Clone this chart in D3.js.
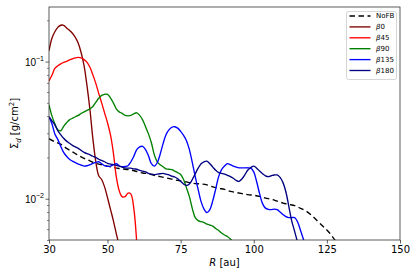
<!DOCTYPE html>
<html><head><meta charset="utf-8">
<script src="https://cdn.jsdelivr.net/npm/d3@7"></script>
<style>body{margin:0;background:#fff}svg{display:block;font-family:"DejaVu Sans",sans-serif}</style>
</head><body><svg id="c" width="415" height="274"></svg>
<script>
// ---------- data ----------
const rGrid = [30,31,32,33,34,35,36,37,38,39,40,41,42,43,44,45,46,47,48,49,50,51,52,53,54,55,56,57,58,59,
  60,61,62,63,64,65,66,67,68,69,70,71,72,73,74,75,76,77,78,79,80,81,82,83,84,85,86,87,88,89,
  90,91,92,93,94,95,96,97,98,99,100,101,102,103,104,105,106,107,108,109,110,111,112,113,114,115,116,117,118];
const rNoFB = [30,32,34,36,38,40,42,44,46,48,50,52,54,56,58,60,62,64,66,68,70,72,74,76,78,80,82,84,86,88,
  90,92,94,96,98,100,102,104,106,108,110,112,114,116,118,120,122,124,126,128];

const sigmaNoFB = [0.0274,0.0260,0.0250,0.0233,0.0220,0.0207,0.0197,0.0189,0.0181,0.0177,
  0.0173,0.0169,0.0166,0.0164,0.0162,0.0158,0.0154,0.0152,0.0148,0.0145,
  0.0142,0.0139,0.0136,0.0134,0.0131,0.0129,0.0128,0.0126,0.0122,0.0119,
  0.0117,0.0113,0.0111,0.0109,0.0107,0.0106,0.0104,0.0101,0.0099,0.0096,
  0.0093,0.0091,0.0089,0.0085,0.0081,0.0075,0.0068,0.0062,0.0056,0.0049];
const sigmaB0 = [0.1197,0.148,0.165,0.1775,0.184,0.184,0.176,0.169,0.161,0.150,
  0.136,0.116,0.0931,0.0665,0.0445,0.0274,0.0186,0.0147,0.0138,0.0122,
  0.01018,0.00839,0.00693,0.00557,0.00455];
const sigmaB45 = [0.0723,0.0794,0.0892,0.0931,0.0962,0.0987,0.1003,0.1028,0.1046,0.1065,
  0.1074,0.1065,0.1033,0.0987,0.0908,0.080,0.0694,0.0586,0.0500,0.0423,
  0.0358,0.0293,0.0217,0.0145,0.01145,0.01035,0.01035,0.0110,0.0108,0.00847,0.00479];
const sigmaB90 = [0.0484,0.0402,0.0352,0.0318,0.0313,0.0337,0.0358,0.0376,0.0386,0.0396,
  0.0405,0.0419,0.0430,0.0441,0.0452,0.0471,0.0504,0.0540,0.0567,0.0577,
  0.0577,0.0544,0.0500,0.0452,0.0430,0.0419,0.0405,0.0402,0.0405,0.0416,
  0.0423,0.0405,0.0376,0.0335,0.0297,0.0256,0.0209,0.0186,0.0177,0.0171,
  0.0165,0.0164,0.0163,0.0159,0.0155,0.0150,0.0138,0.0120,0.01035,0.00847,
  0.00728,0.00693,0.00681,0.0067,0.00654,0.00643,0.00632,0.00606,0.00586,0.00562,
  0.00544,0.0053,0.00508,0.00479];
const sigmaB135 = [0.0396,0.0352,0.0297,0.0271,0.0241,0.0218,0.0204,0.0194,0.0188,0.0183,
  0.0179,0.0176,0.0173,0.0174,0.0177,0.0181,0.0184,0.0186,0.0180,0.0174,
  0.0172,0.0173,0.0177,0.0180,0.0174,0.0171,0.0172,0.0174,0.0186,0.0204,
  0.0228,0.0239,0.0241,0.0228,0.0206,0.0180,0.0173,0.0183,0.0211,0.0252,
  0.0293,0.0318,0.0332,0.0335,0.0327,0.0310,0.0290,0.0265,0.0228,0.0183,
  0.0145,0.01164,0.00952,0.0084,0.00792,0.00833,0.00968,0.0118,0.0145,0.0163,
  0.0173,0.0180,0.0177,0.0173,0.0170,0.0168,0.0168,0.0168,0.0168,0.0167,
  0.0157,0.0133,0.01089,0.00921,0.00854,0.00836,0.00833,0.0084,0.00833,0.0080,
  0.00766,0.0074,0.00728,0.00728,0.00728,0.00676,0.00586,0.00504,0.0042];
const sigmaB180 = [0.0396,0.0370,0.0346,0.0313,0.0293,0.0276,0.0263,0.0254,0.0245,0.0239,
  0.0233,0.0225,0.0218,0.0213,0.0209,0.0204,0.0200,0.0194,0.0190,0.0186,
  0.0181,0.0179,0.0177,0.0175,0.0173,0.0170,0.0168,0.0167,0.0167,0.0165,
  0.0164,0.0161,0.0159,0.0157,0.0153,0.0151,0.0150,0.0151,0.0152,0.0153,
  0.0151,0.0149,0.0146,0.0144,0.0140,0.0134,0.0128,0.0125,0.0128,0.0138,
  0.0152,0.0167,0.0180,0.0186,0.0188,0.0180,0.0170,0.0161,0.0155,0.0153,
  0.0151,0.0148,0.0145,0.0141,0.0136,0.0134,0.0140,0.0150,0.0162,0.0169,
  0.0173,0.0167,0.0159,0.0152,0.0147,0.0145,0.0147,0.0149,0.0149,0.0143,
  0.0131,0.0112,0.00876,0.00687,0.00576,0.00479];

const xTicks = [30,50,75,100,125,150];
const yMajor = [0.1,0.01];
const yMajorExp = ["\u22121","\u22122"];
const yMinor = [0.005,0.006,0.007,0.008,0.009,0.02,0.03,0.04,0.05,0.06,0.07,0.08,0.09,0.2];

const seriesNames = ["NoFB","0","45","90","135","180"];
const seriesColors = ["#000000","#800000","#ff0000","#008000","#0000ff","#000080"];

// ---------- chart ----------
const svg = d3.select("#c");
const L = 49, Rr = 400, T = 7, B = 240;
const x = d3.scaleLinear().domain([30,150]).range([L,Rr]);
const y = d3.scaleLog().domain([0.005,0.25]).range([B,T]);

svg.append("clipPath").attr("id","clip").append("rect")
  .attr("x",L).attr("y",T).attr("width",Rr-L).attr("height",B-T);

const series = [
  {r:rNoFB, s:sigmaNoFB},
  {r:rGrid, s:sigmaB0},
  {r:rGrid, s:sigmaB45},
  {r:rGrid, s:sigmaB90},
  {r:rGrid, s:sigmaB135},
  {r:rGrid, s:sigmaB180}
];
const line = d3.line().x(d=>x(d[0])).y(d=>y(d[1])).curve(d3.curveCatmullRom.alpha(0.5));
const g = svg.append("g").attr("clip-path","url(#clip)");
series.forEach((ser,i)=>{
  const pts = ser.s.map((v,j)=>[ser.r[j],v]);
  g.append("path").attr("d",line(pts)).attr("fill","none")
    .attr("stroke",seriesColors[i]).attr("stroke-width",1.35)
    .attr("stroke-dasharray", i===0 ? "5.5,3.5" : null);
});

// axes
const xAxis = d3.axisBottom(x).tickValues(xTicks).tickSize(3.5).tickPadding(2.5).tickFormat(d3.format("d"));
const gx = svg.append("g").attr("transform",`translate(0,${B})`).call(xAxis);
gx.select(".domain").remove();
gx.selectAll("line").attr("stroke","#333").attr("stroke-width",0.8);
gx.selectAll("text").attr("font-size",10).attr("fill","#000").attr("font-family","DejaVu Sans");

const yAxisMinor = d3.axisLeft(y).tickValues(yMinor).tickSize(2).tickFormat("");
const gym = svg.append("g").attr("transform",`translate(${L},0)`).call(yAxisMinor);
gym.select(".domain").remove();
gym.selectAll("line").attr("stroke","#333").attr("stroke-width",0.6);

const yAxis = d3.axisLeft(y).tickValues(yMajor).tickSize(3.5).tickFormat("");
const gy = svg.append("g").attr("transform",`translate(${L},0)`).call(yAxis);
gy.select(".domain").remove();
gy.selectAll("line").attr("stroke","#333").attr("stroke-width",0.8);
gy.selectAll(".tick").each(function(d,i){
  const t = d3.select(this).append("text").attr("x",-5).attr("dy","0.35em")
    .attr("text-anchor","end").attr("font-size",10).attr("fill","#000");
  t.append("tspan").text("10");
  t.append("tspan").attr("dy",-4.5).attr("font-size",7).text(yMajorExp[i]);
});

// frame
svg.append("rect").attr("x",L).attr("y",T).attr("width",Rr-L).attr("height",B-T)
  .attr("fill","none").attr("stroke","#333").attr("stroke-width",0.8);

// axis labels
const xl = svg.append("text").attr("x",(L+Rr)/2).attr("y",266).attr("text-anchor","middle")
  .attr("font-size",10).attr("fill","#000");
xl.append("tspan").attr("font-style","italic").text("R");
xl.append("tspan").text(" [au]");

const yl = svg.append("text").attr("transform",`translate(18,${(T+B)/2}) rotate(-90)`)
  .attr("text-anchor","middle").attr("font-size",10).attr("fill","#000");
yl.append("tspan").text("\u03A3");
yl.append("tspan").attr("font-style","italic").attr("font-size",7).attr("dy",2.5).text("d");
yl.append("tspan").attr("dy",-2.5).text(" [g/cm");
yl.append("tspan").attr("font-size",7).attr("dy",-4).text("2");
yl.append("tspan").attr("dy",4).text("]");

// legend
const lg = svg.append("g");
lg.append("rect").attr("x",346.5).attr("y",11.5).attr("width",50).attr("height",68)
  .attr("rx",2).attr("fill","#fff").attr("fill-opacity",0.8).attr("stroke","#ccc").attr("stroke-width",0.8);
seriesNames.forEach((n,i)=>{
  const yy = 16 + i*10.9;
  lg.append("line").attr("x1",349.5).attr("x2",370.5).attr("y1",yy).attr("y2",yy)
    .attr("stroke",seriesColors[i]).attr("stroke-width",1.35)
    .attr("stroke-dasharray", i===0 ? "5.5,3.5" : null);
  const t = lg.append("text").attr("x",376).attr("y",yy).attr("dy","0.35em")
    .attr("font-size",7).attr("fill","#000");
  if(i===0){ t.text(n); }
  else { t.append("tspan").attr("font-style","italic").text("\u03B2"); t.append("tspan").text(n); }
});
</script></body></html>
